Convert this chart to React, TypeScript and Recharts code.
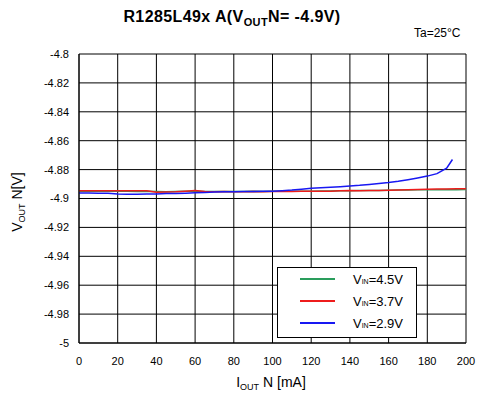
import React from 'react';
import { LineChart, Line, XAxis, YAxis, CartesianGrid } from 'recharts';

// I_OUT N [mA]
const xTicks = [0, 20, 40, 60, 80, 100, 120, 140, 160, 180, 200];
const yTicks = [-5, -4.98, -4.96, -4.94, -4.92, -4.9, -4.88, -4.86, -4.84, -4.82, -4.8];

const currentFull = [
  0, 5, 10, 15, 20, 25, 30, 35, 40, 45, 50, 55, 60, 65, 70, 75, 80, 85, 90, 95, 100,
  105, 110, 115, 120, 125, 130, 135, 140, 145, 150, 155, 160, 165, 170, 175, 180, 185, 190, 195, 200,
];
const currentLow = [
  0, 5, 10, 15, 20, 25, 30, 35, 40, 45, 50, 55, 60, 65, 70, 75, 80, 85, 90, 95, 100,
  105, 110, 115, 120, 125, 130, 135, 140, 145, 150, 155, 160, 165, 170, 175, 180, 185, 190, 193,
];

// V_IN = 4.5V
const vin45 = [
  -4.8949, -4.8949, -4.8950, -4.8948, -4.8950, -4.8950, -4.8951, -4.8950, -4.8952, -4.8953, -4.8951,
  -4.8950, -4.8949, -4.8951, -4.8952, -4.8951, -4.8952, -4.8951, -4.8950, -4.8951, -4.8950,
  -4.8950, -4.8949, -4.8950, -4.8949, -4.8948, -4.8948, -4.8946, -4.8946, -4.8945, -4.8944,
  -4.8945, -4.8943, -4.8942, -4.8941, -4.8940, -4.8939, -4.8940, -4.8938, -4.8939, -4.8938,
];
// V_IN = 3.7V
const vin37 = [
  -4.8946, -4.8946, -4.8946, -4.8946, -4.8946, -4.8946, -4.8946, -4.8947, -4.8956, -4.8955, -4.8954,
  -4.8950, -4.8945, -4.8952, -4.8953, -4.8952, -4.8954, -4.8953, -4.8952, -4.8953, -4.8952,
  -4.8951, -4.8951, -4.8950, -4.8950, -4.8950, -4.8949, -4.8946, -4.8944, -4.8946, -4.8945,
  -4.8944, -4.8943, -4.8942, -4.8940, -4.8938, -4.8936, -4.8935, -4.8934, -4.8932, -4.8933,
];
// V_IN = 2.9V
const vin29 = [
  -4.8962, -4.8962, -4.8963, -4.8964, -4.8968, -4.8970, -4.8970, -4.8969, -4.8968, -4.8966, -4.8965,
  -4.8963, -4.8960, -4.8958, -4.8955, -4.8953, -4.8953, -4.8952, -4.8951, -4.8950, -4.8949,
  -4.8946, -4.8942, -4.8936, -4.8929, -4.8926, -4.8922, -4.8918, -4.8913, -4.8909, -4.8903,
  -4.8897, -4.8890, -4.8881, -4.8870, -4.8858, -4.8845, -4.8828, -4.8790, -4.8730,
];

const series = [
  { name: '4.5V', color: '#2a9d5c', x: currentFull, y: vin45 },
  { name: '3.7V', color: '#ee1c1c', x: currentFull, y: vin37 },
  { name: '2.9V', color: '#1818f2', x: currentLow, y: vin29 },
];

const FONT = '"Liberation Sans", Arial, sans-serif';

const fmtY = (v: number) => String(Number(v.toFixed(2)));

const abs = (style: React.CSSProperties): React.CSSProperties => ({
  position: 'absolute',
  fontFamily: FONT,
  color: '#000',
  whiteSpace: 'nowrap',
  lineHeight: 1,
  ...style,
});

export default function App() {
  return (
    <div style={{ position: 'absolute', left: 0, top: 0, width: 479, height: 400, background: '#fff' }}>
      <LineChart
        width={479}
        height={400}
        margin={{ top: 54, right: 13, bottom: 0, left: 0 }}
      >
        <CartesianGrid stroke="#000" strokeWidth={1} />
        <XAxis
          type="number"
          dataKey="x"
          domain={[0, 200]}
          ticks={xTicks}
          height={57}
          tickLine={false}
          tickMargin={8}
          axisLine={{ stroke: '#000' }}
          tick={{ fill: '#000', fontSize: 11, fontFamily: FONT }}
          allowDuplicatedCategory={false}
        />
        <YAxis
          type="number"
          domain={[-5, -4.8]}
          ticks={yTicks}
          width={79}
          tickLine={false}
          tickMargin={4}
          tickFormatter={fmtY}
          axisLine={{ stroke: '#000' }}
          tick={{ fill: '#000', fontSize: 11, fontFamily: FONT }}
        />
        {series.map((s) => (
          <Line
            key={s.name}
            data={s.x.map((x, i) => ({ x, v: s.y[i] }))}
            dataKey="v"
            type="linear"
            stroke={s.color}
            strokeWidth={1.5}
            dot={false}
            isAnimationActive={false}
          />
        ))}
      </LineChart>

      <div style={abs({ left: 232, top: 18, fontSize: 16, fontWeight: 'bold', letterSpacing: 0.4, transform: 'translate(-50%, -50%)' })}>
        R1285L49x A(V<sub style={{ fontSize: 11, verticalAlign: -4 }}>OUT</sub>N= -4.9V)
      </div>
      <div style={abs({ left: 414, top: 27, fontSize: 12 })}>Ta=25°C</div>

      <div
        style={abs({
          left: 18,
          top: 202,
          fontSize: 14,
          transform: 'translate(-50%, -50%) rotate(-90deg)',
        })}
      >
        V<sub style={{ fontSize: 9, verticalAlign: -3 }}>OUT</sub> N[V]
      </div>
      <div style={abs({ left: 271, top: 383, fontSize: 14, transform: 'translate(-50%, -50%)' })}>
        I<sub style={{ fontSize: 9, verticalAlign: -3 }}>OUT</sub> N [mA]
      </div>

      <div
        style={{
          position: 'absolute',
          left: 277,
          top: 267,
          width: 138,
          height: 69,
          border: '1px solid #000',
          background: '#fff',
        }}
      >
        {series.map((s, i) => (
          <div key={s.name} style={{ position: 'absolute', left: 0, top: 4 + i * 22, height: 16, width: 138 }}>
            <div style={{ position: 'absolute', left: 22, top: 6, width: 35, height: 2, background: s.color }} />
            <div style={abs({ left: 75, top: 1, fontSize: 13 })}>
              V<span style={{ fontSize: 7 }}>IN</span>={s.name}
            </div>
          </div>
        ))}
      </div>
    </div>
  );
}
